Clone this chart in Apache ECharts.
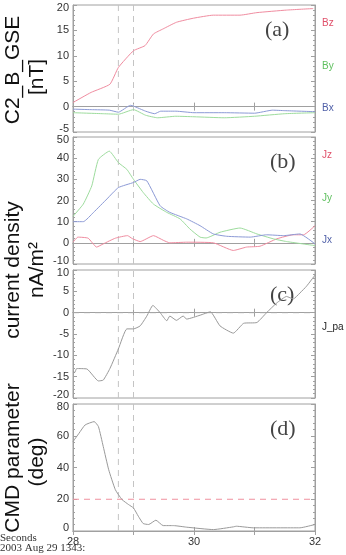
<!DOCTYPE html>
<html>
<head>
<meta charset="utf-8">
<script src="https://cdn.jsdelivr.net/npm/echarts@6/dist/echarts.min.js"></script>
<style>
  html, body { margin: 0; padding: 0; background: #fff; }
  #chart { width: 346px; height: 555px; }
</style>
</head>
<body>
<div id="chart"></div>
<script>
// panel (a) magnetic field, nT
var bzT = [28, 28.3, 28.61, 28.75, 29.0, 29.19, 29.33, 29.49, 29.71, 29.99, 30.32, 30.76, 31.04, 31.53, 31.97];
var bzV = [0.8, 2.8, 4.4, 7.7, 11.0, 12.0, 14.3, 15.3, 16.6, 17.4, 18.0, 18.0, 18.5, 19.0, 19.3];
var byT = [28, 28.5, 28.75, 29.0, 29.2, 29.4, 29.7, 30.0, 30.5, 31.0, 31.5, 32];
var byV = [-1.2, -1.4, -1.5, -0.6, -1.7, -2.2, -1.9, -2.0, -2.2, -1.9, -1.4, -1.2];
var bxT = [28, 28.3, 28.6, 28.75, 28.95, 29.0, 29.2, 29.35, 29.45, 29.7, 30.0, 30.5, 31.0, 31.3, 31.5, 32];
var bxV = [-0.5, -0.6, -0.7, -1.1, 0.25, 0.1, -0.9, -1.4, -0.9, -0.9, -1.2, -1.2, -1.3, -0.7, -0.8, -1.0];

// panel (b) current density, nA/m^2
var jyT = [28, 28.17, 28.31, 28.42, 28.6, 28.75, 28.89, 29.0, 29.16, 29.33, 29.55, 29.77, 29.93, 30.1, 30.2, 30.43, 30.76, 31.04, 31.31, 31.53, 32];
var jyV = [12.5, 18.3, 26.9, 39.4, 43.3, 37.9, 34.7, 30.0, 23.8, 18.3, 14.4, 11.3, 6.6, 2.7, 2.3, 5.0, 7.0, 4.2, 1.9, 0.6, -1.3];
var jxT = [28, 28.17, 28.34, 28.56, 28.75, 29.0, 29.11, 29.22, 29.44, 29.6, 29.88, 30.1, 30.32, 30.54, 30.93, 31.2, 31.48, 31.75, 32];
var jxV = [10.0, 10.0, 14.4, 20.7, 26.1, 28.5, 30.0, 29.3, 17.5, 14.4, 11.3, 8.1, 4.2, 3.1, 2.7, 3.8, 3.4, 4.2, -0.5];
var jzT = [28, 28.08, 28.25, 28.39, 28.5, 28.7, 28.9, 28.98, 29.11, 29.33, 29.5, 29.6, 29.88, 30.32, 30.65, 30.87, 31.09, 31.37, 31.64, 31.81, 32];
var jzV = [0.3, 2.7, 2.2, -2.0, -0.5, 2.2, 3.4, 2.0, 0.6, 3.4, 1.1, 0.0, 0.3, 0.0, -3.6, -2.0, -1.6, 1.9, 3.8, 3.8, 8.1];

// panel (c) parallel current
var jpaT = [28, 28.03, 28.06, 28.23, 28.42, 28.5, 28.61, 28.75, 28.89, 29.0, 29.11, 29.22, 29.32, 29.44, 29.55, 29.6, 29.71, 29.82, 29.88, 30.1, 30.27, 30.43, 30.65, 30.82, 31.04, 31.2, 31.37, 31.53, 31.64, 31.75, 31.86, 32];
var jpaV = [-13.8, -14.0, -13.1, -13.2, -16.0, -15.8, -13.1, -8.5, -3.8, -3.8, -3.1, -0.8, 1.7, 0.0, -1.9, -0.8, -1.8, -0.8, -1.5, -0.6, 0.2, -3.1, -4.8, -2.5, -2.3, 0.0, 2.3, 3.8, 3.2, 4.6, 6.2, 8.8];

// panel (d) CMD parameter, deg
var cmdT = [28, 28.1, 28.2, 28.35, 28.42, 28.5, 28.59, 28.7, 28.81, 28.92, 29.0, 29.08, 29.16, 29.25, 29.37, 29.49, 29.66, 29.88, 30.32, 30.65, 30.7, 30.98, 31.75, 32];
var cmdV = [56.3, 61.6, 66.8, 68.9, 65.8, 53.2, 38.6, 26.0, 19.8, 16.6, 14.5, 9.3, 4.7, 4.1, 6.8, 3.4, 3.4, 2.4, 0.9, 2.6, 3.0, 2.0, 2.0, 4.1];

var xTicks = [28, 30, 32];
var markTimes = [28.75, 29.0];
var jpaLevel = 0;    // zero line in (c)
var cmdLevel = 20;   // threshold in (d)

var xMin = 28, xMax = 32;
var panelTops = [5, 137, 270, 404];
var panelHeights = [127, 127, 128, 127];
var yMin = [-5, -10, -20, 0];
var yMax = [20, 50, 10, 80];
var yStep = [5, 10, 5, 20];
var panelTags = ['(a)', '(b)', '(c)', '(d)'];

function zip(t, v) {
  return t.map(function (x, i) { return [x, v[i]]; });
}

var axisGray = '#a0a0a0';
var grids = [], xAxes = [], yAxes = [], series = [], graphics = [];
var labelFont = { fontSize: 11, fontFamily: 'Liberation Sans', color: '#333' };

panelTops.forEach(function (top, i) {
  grids.push({ left: 73, right: 31, top: top, height: panelHeights[i], show: true, borderColor: axisGray, borderWidth: 1 });
  var last = i === panelTops.length - 1;
  ['bottom', 'top'].forEach(function (pos) {
    xAxes.push({
      type: 'value', gridIndex: i, position: pos, min: xMin, max: xMax, interval: 1,
      axisLine: { lineStyle: { color: axisGray } },
      axisTick: { inside: true, length: 4, lineStyle: { color: axisGray } },
      splitLine: { show: false },
      axisLabel: {
        show: last && pos === 'bottom', color: '#333', fontSize: 11, margin: 5,
        fontFamily: 'Liberation Sans',
        formatter: function (v) { return xTicks.indexOf(v) >= 0 ? String(v) : ''; }
      }
    });
  });
  ['left', 'right'].forEach(function (pos) {
    yAxes.push({
      type: 'value', gridIndex: i, position: pos, min: yMin[i], max: yMax[i], interval: yStep[i],
      axisLine: { show: true, lineStyle: { color: axisGray } },
      axisTick: { show: true, inside: true, length: 4, lineStyle: { color: axisGray } },
      minorTick: { show: true, splitNumber: 5, length: 2, lineStyle: { color: axisGray } },
      splitLine: { show: false },
      axisLabel: {
        show: pos === 'left', margin: 4, fontSize: 11, fontFamily: 'Liberation Sans', color: '#333',
        formatter: function (v) {
          // end labels sit a little inside the frame, as in the original plot
          if (v === yMin[i]) return '{lo|' + v + '}';
          if (v === yMax[i]) return '{hi|' + v + '}';
          return String(v);
        },
        rich: {
          lo: Object.assign({ padding: [0, 0, 7, 0] }, labelFont),
          hi: Object.assign({ padding: [5, 0, 0, 0] }, labelFont)
        }
      }
    });
  });
  graphics.push({
    type: 'text', left: 265 + (i === 0 ? 0 : 5), top: top + 14,
    style: { text: panelTags[i], font: '22px "Liberation Serif"', fill: '#444' }
  });

  // dashed event markers, drawn as plain two-point series
  markTimes.forEach(function (t) {
    series.push(guide([[t, yMin[i]], [t, yMax[i]]], '#c4c4c4', i));
  });
});

function guide(data, color, panel) {
  return {
    type: 'line', data: data, xAxisIndex: panel * 2, yAxisIndex: panel * 2,
    showSymbol: false, silent: true, z: 1,
    lineStyle: { width: 1, color: color, type: [6, 5] }, itemStyle: { color: color }
  };
}

function line(name, t, v, color, panel) {
  return {
    name: name, type: 'line', data: zip(t, v), xAxisIndex: panel * 2, yAxisIndex: panel * 2,
    showSymbol: false, silent: true, smooth: 0.15, z: 3,
    lineStyle: { width: 1, color: color }, itemStyle: { color: color }
  };
}

series.push(guide([[xMin, jpaLevel], [xMax, jpaLevel]], '#a8a8a8', 2));
series.push(guide([[xMin, cmdLevel], [xMax, cmdLevel]], '#f0909f', 3));

series.push(line('Bz', bzT, bzV, '#f08ca0', 0));
series.push(line('By', byT, byV, '#9ddc9d', 0));
series.push(line('Bx', bxT, bxV, '#8c9ad6', 0));
series.push(line('Jz', jzT, jzV, '#f08ca0', 1));
series.push(line('Jy', jyT, jyV, '#9ddc9d', 1));
series.push(line('Jx', jxT, jxV, '#8c9ad6', 1));
series.push(line('J_pa', jpaT, jpaV, '#999', 2));
series.push(line('CMD', cmdT, cmdV, '#999', 3));

// right side series labels
var sideLabels = [
  ['Bz', 23, '#e0506a'], ['By', 66, '#60c060'], ['Bx', 108, '#5060a8'],
  ['Jz', 155, '#e0506a'], ['Jy', 198, '#60c060'], ['Jx', 240, '#5060a8'],
  ['J_pa', 327, '#222']
];
sideLabels.forEach(function (s) {
  graphics.push({
    type: 'text', x: 322, y: s[1],
    style: { text: s[0], font: '10px "Liberation Sans"', fill: s[2], textVerticalAlign: 'middle' }
  });
});

// rotated axis titles
var titles = [
  ['C2_B_GSE', 13, 70], ['[nT]', 37, 77],
  ['current density', 13, 270], ['nA/m\u00b2', 37, 270],
  ['CMD parameter', 13, 458], ['(deg)', 37, 462]
];
titles.forEach(function (t) {
  graphics.push({
    type: 'text', x: t[1], y: t[2], rotation: Math.PI / 2,
    style: { text: t[0], font: '21px "Liberation Sans"', fill: '#111', textAlign: 'center', textVerticalAlign: 'middle' }
  });
});

graphics.push({ type: 'text', x: 0, y: 538, style: { text: 'Seconds', font: '11px "Liberation Serif"', fill: '#333', textVerticalAlign: 'middle' } });
graphics.push({ type: 'text', x: 0, y: 548, style: { text: '2003 Aug 29 1343:', font: '11px "Liberation Serif"', fill: '#333', textVerticalAlign: 'middle' } });

var chart = echarts.init(document.getElementById('chart'));
chart.setOption({
  animation: false,
  backgroundColor: '#fff',
  grid: grids,
  xAxis: xAxes,
  yAxis: yAxes,
  series: series,
  graphic: graphics
});
</script>
</body>
</html>
